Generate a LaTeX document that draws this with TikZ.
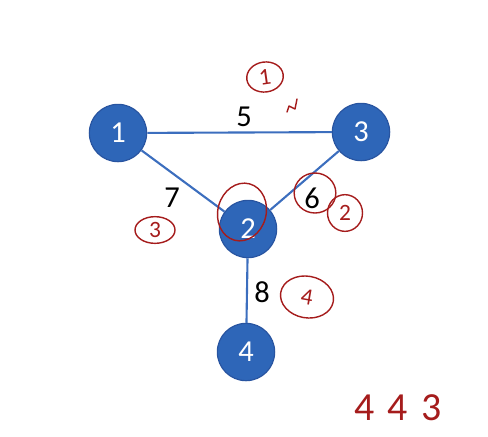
\documentclass[tikz,border=0pt]{standalone}
\usepackage{fontspec}
\setmainfont{Carlito}
\usetikzlibrary{shapes.geometric}
\definecolor{vblue}{RGB}{46,102,184}
\definecolor{vline}{RGB}{40,84,160}
\definecolor{eline}{RGB}{60,110,190}
\definecolor{ink}{RGB}{165,28,28}
\tikzset{vert/.style={circle,fill=vblue,draw=vline,line width=1pt,minimum size=1.72cm,inner sep=0pt,text=white,font=\fontsize{26}{30}\selectfont},
 link/.style={draw=eline,line width=1.8pt},
 wt/.style={font=\fontsize{26}{30}\selectfont},
 note/.style={draw=ink,ellipse,line width=1.2pt,text=ink,inner sep=0pt,font=\fontsize{20}{22}\selectfont},
 scrawl/.style={ink,line width=1.2pt,line cap=round,line join=round}}

\begin{document}
\begin{tikzpicture}[x=0.03cm,y=-0.03cm]
\useasboundingbox (0,0) rectangle (488,436);
\node[vert](n1) at(118,133){1};
\node[vert](n3) at(361,132){3};
\node[vert](n2) at(248,229){2};
\node[vert](n4) at(246,352){4};
\draw[link](n1)--(n3)(n1)--(n2)(n3)--(n2)(n2)--(n4);
\node[wt](w5) at(244,117){5};
\node[wt](w7) at(172,198){7};
\node[wt](w6) at(312,198){6};
\node[wt](w8) at(262,292){8};
% hand notes
\node[note,minimum width=1.1cm,minimum height=0.9cm,rotate=8](a1) at(265,77){1};
\node[note,minimum width=1.05cm,minimum height=1.1cm](a2) at(345,213){2};
\node[note,minimum width=1.2cm,minimum height=0.8cm](a3) at(155,230){3};
\node[note,minimum width=1.6cm,minimum height=1.25cm,rotate=-10](a4) at(307,297){4};
\node[note,minimum width=1.25cm,minimum height=1.2cm](c6) at(315,193){};
\node[note,minimum width=1.45cm,minimum height=1.75cm,rotate=-15](c2) at(242,212){};
\draw[scrawl](297,99)--(295,109)--(289,106)--(287,112);
\node[text=ink,font=\fontsize{34}{36}\selectfont](sig) at(398,408){4\,\,4\,\,3};
\end{tikzpicture}
\end{document}
